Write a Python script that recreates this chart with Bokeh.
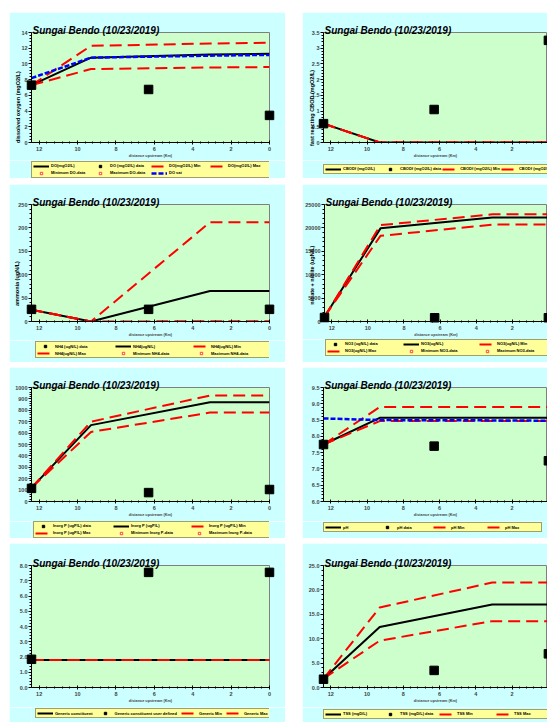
import math
from bokeh.plotting import figure
from bokeh.models import Range1d, FixedTicker, Legend, LegendItem, Spacer
from bokeh.layouts import row, column
from bokeh.core.properties import value
from bokeh.embed import file_html
from bokeh.resources import INLINE

TITLE = "Sungai Bendo (10/23/2019)"
X_LABEL = "distance upstream (Km)"
MODEL_X = [12.4, 9.3, 3.1, 0.0]
DATA_X = [12.4, 6.3, 0.0]
X_TICKS = [0, 2, 4, 6, 8, 10, 12]
X_TICK_LABELS = ["0", "2", "4", "6", "8", "10", "12"]

# Dissolved oxygen
DO_MODEL = [7.3, 10.8, 11.2, 11.3]
DO_MIN = [7.3, 9.35, 9.55, 9.6]
DO_MAX = [7.3, 12.3, 12.6, 12.7]
DO_SAT = [8.2, 10.8, 11.05, 11.15]
DO_DATA = [7.3, 6.75, 3.45]
DO_TICKS = [0, 2, 4, 6, 8, 10, 12, 14]
DO_TICK_LABELS = ["0", "2", "4", "6", "8", "10", "12", "14"]

# Fast CBOD
CBOD_MODEL = [0.6, 0.0, 0.0, 0.0]
CBOD_MIN = [0.6, 0.0, 0.0, 0.0]
CBOD_MAX = [0.6, 0.0, 0.0, 0.0]
CBOD_DATA = [0.6, 1.05, 3.25]
CBOD_TICKS = [0, 0.5, 1, 1.5, 2, 2.5, 3, 3.5]
CBOD_TICK_LABELS = ["0", "0.5", "1", "1.5", "2", "2.5", "3", "3.5"]

# Ammonia
NH4_MODEL = [25, 0, 65, 65]
NH4_MIN = [25, 0, 0.5, 0.5]
NH4_MAX = [25, 0, 212, 212]
NH4_DATA = [26, 26, 26]
NH4_TICKS = [0, 50, 100, 150, 200, 250]
NH4_TICK_LABELS = ["0", "50", "100", "150", "200", "250"]

# Nitrate
NO3_MODEL = [1000, 19900, 22200, 22200]
NO3_MIN = [1000, 18300, 20700, 20700]
NO3_MAX = [1000, 20600, 22900, 22900]
NO3_DATA = [850, 800, 800]
NO3_TICKS = [0, 5000, 10000, 15000, 20000, 25000]
NO3_TICK_LABELS = ["0", "5000", "10000", "15000", "20000", "25000"]

# Inorganic P
P_MODEL = [120, 670, 870, 870]
P_MIN = [120, 610, 780, 780]
P_MAX = [120, 700, 930, 930]
P_DATA = [115, 78, 105]
P_TICKS = [0, 100, 200, 300, 400, 500, 600, 700, 800, 900, 1000]
P_TICK_LABELS = ["0", "100", "200", "300", "400", "500", "600", "700", "800", "900", "1000"]

# pH
PH_MODEL = [7.75, 8.57, 8.57, 8.57]
PH_MIN = [7.75, 8.47, 8.47, 8.47]
PH_MAX = [7.75, 8.9, 8.9, 8.9]
PH_SAT = [8.55, 8.5, 8.49, 8.48]
PH_DATA = [7.75, 7.7, 7.25]
PH_TICKS = [6.0, 6.5, 7.0, 7.5, 8.0, 8.5, 9.0, 9.5]
PH_TICK_LABELS = ["6.0", "6.5", "7.0", "7.5", "8.0", "8.5", "9.0", "9.5"]

# Generic constituent
GEN_MODEL = [1.8, 1.8, 1.8, 1.8]
GEN_MIN = [1.8, 1.8, 1.8, 1.8]
GEN_MAX = [1.8, 1.8, 1.8, 1.8]
GEN_DATA = [1.85, 7.55, 7.55]
GEN_TICKS = [0, 1, 2, 3, 4, 5, 6, 7, 8]
GEN_TICK_LABELS = ["0.0", "1.0", "2.0", "3.0", "4.0", "5.0", "6.0", "7.0", "8.0"]

# TSS
TSS_MODEL = [1.8, 12.4, 17.0, 17.0]
TSS_MIN = [1.8, 9.6, 13.6, 13.6]
TSS_MAX = [1.8, 16.4, 21.5, 21.5]
TSS_DATA = [1.7, 3.5, 6.9]
TSS_TICKS = [0, 5, 10, 15, 20, 25]
TSS_TICK_LABELS = ["0.0", "5.0", "10.0", "15.0", "20.0", "25.0"]

CYAN = "#CCFFFF"
GREEN = "#CCFFCC"
YELLOW = "#FFFF99"
RED = "#FF0000"
BLUE = "#0000FF"
FONT = "Liberation Sans"


def minor_list(ticks, n):
    out = []
    for a, b in zip(ticks[:-1], ticks[1:]):
        for k in range(1, n):
            out.append(a + (b - a) * k / n)
    return out


def style_of(kind):
    if kind == "model":
        return dict(line_color="black", line_dash="solid", line_width=2)
    if kind == "range":
        return dict(line_color=RED, line_dash="12 6", line_width=2)
    return dict(line_color=BLUE, line_dash="5 2", line_width=2.5)


def make_panel(col, h, bt, bb, leg_h, ticks, tick_labels, series, data_label, data_y,
               empties, legend_order, ncols, label_w, lx, ly,
               ylabel=None, ylabel_y=None, ylabel_dx=0, spacing=1):
    if col == 0:
        w, bl, br, x_end = 276, 22, 16, 0.0
    else:
        w, bl, br, x_end = 245, 21, 0, 0.05
    p = figure(width=w, height=h, x_range=Range1d(12.4, x_end),
               y_range=Range1d(ticks[0], ticks[-1]),
               output_backend="svg", toolbar_location=None, tools="",
               min_border_left=bl, min_border_right=br,
               min_border_top=bt, min_border_bottom=bb,
               background_fill_color=GREEN, border_fill_color=CYAN,
               outline_line_color="#7F7F7F", outline_line_width=1)
    p.xgrid.visible = False
    p.ygrid.visible = False

    xa = p.xaxis[0]
    xa.ticker = FixedTicker(ticks=X_TICKS, minor_ticks=minor_list(X_TICKS, 5))
    xa.major_label_overrides = dict(zip(X_TICKS, X_TICK_LABELS))
    xa.axis_label = X_LABEL
    xa.axis_label_text_font = FONT
    xa.axis_label_text_font_style = "bold"
    xa.axis_label_text_font_size = "3.8px"
    xa.axis_label_standoff = 0
    xa.major_label_text_font = FONT
    xa.major_label_text_font_style = "bold"
    xa.major_label_text_font_size = "5.5px"
    xa.major_label_standoff = 2
    xa.major_tick_in = 2
    xa.major_tick_out = 2
    xa.minor_tick_in = 1
    xa.minor_tick_out = 1
    xa.axis_line_color = "black"

    ya = p.yaxis[0]
    ya.ticker = FixedTicker(ticks=ticks, minor_ticks=minor_list(ticks, 5))
    ya.major_label_overrides = dict(zip(ticks, tick_labels))
    ya.major_label_text_font = FONT
    ya.major_label_text_font_style = "bold"
    ya.major_label_text_font_size = "5.5px"
    ya.major_label_standoff = 1
    ya.major_tick_in = 0
    ya.major_tick_out = 3
    ya.minor_tick_in = 0
    ya.minor_tick_out = 2
    ya.axis_line_color = "black"

    for lab, ys, kind in series:
        p.line(MODEL_X, ys, **style_of(kind))
    p.scatter(DATA_X, data_y, marker="square", size=8.5,
              fill_color="black", line_color="black", level="overlay")

    p.text(x=[12.4], y=[ticks[-1]], text=[TITLE], x_offset=1, y_offset=-2,
           text_align="left", text_baseline="alphabetic",
           text_font=value(FONT), text_font_style="bold italic",
           text_font_size="10px", text_color="black", level="overlay")

    if ylabel:
        p.text(x=[12.4], y=[ylabel_y], text=[ylabel], x_offset=ylabel_dx,
               angle=math.pi / 2, text_align="center", text_baseline="middle",
               text_font=value(FONT), text_font_style="bold",
               text_font_size="5.5px", text_color="black", level="overlay")

    # legend strip below the chart (same panel background)
    lf = figure(width=w, height=leg_h, x_range=Range1d(0, 1), y_range=Range1d(0, 1),
                output_backend="svg", toolbar_location=None, tools="",
                x_axis_location=None, y_axis_location=None,
                min_border=0, min_border_left=bl, min_border_right=br,
                min_border_top=0, min_border_bottom=0,
                background_fill_color=CYAN, border_fill_color=CYAN,
                outline_line_color=None)
    lf.xgrid.visible = False
    lf.ygrid.visible = False
    rmap = {}
    for lab, ys, kind in series:
        if lab:
            rmap[lab] = lf.line(MODEL_X, ys, visible=False, **style_of(kind))
    rmap[data_label] = lf.scatter(DATA_X, data_y, marker="square", size=8,
                                  fill_color="black", line_color="black",
                                  visible=False)
    for lab in empties:
        rmap[lab] = lf.scatter(DATA_X, data_y, marker="square", size=4,
                               fill_color="white", line_color="#FF4040",
                               line_width=1, visible=False)
    leg = Legend(items=[LegendItem(label=l, renderers=[rmap[l]]) for l in legend_order],
                 location=(lx, ly), orientation="horizontal", ncols=ncols,
                 background_fill_color=YELLOW, background_fill_alpha=1.0,
                 border_line_color="#404040", border_line_width=1,
                 inactive_fill_alpha=0.0,
                 padding=1, spacing=spacing, margin=0,
                 glyph_width=16, glyph_height=6, label_height=6,
                 label_width=label_w, label_standoff=2,
                 label_text_font=FONT, label_text_font_size="4px",
                 label_text_font_style="bold", label_text_color="black")
    lf.add_layout(leg, "center")
    return column(p, lf)


p1 = make_panel(0, 148, 20, 17, 18, DO_TICKS, DO_TICK_LABELS,
                [("DO(mgO2/L)", DO_MODEL, "model"),
                 ("DO(mgO2/L) Min", DO_MIN, "range"),
                 ("DO(mgO2/L) Max", DO_MAX, "range"),
                 ("DO sat", DO_SAT, "sat")],
                "DO (mgO2/L) data", DO_DATA, ["Minimum DO-data", "Maximum DO-data"],
                ["DO(mgO2/L)", "DO (mgO2/L) data", "DO(mgO2/L) Min", "DO(mgO2/L) Max",
                 "Minimum DO-data", "Maximum DO-data", "DO sat"],
                4, 40, 0, 0.2, "dissolved oxygen (mgO2/L)", 4.5, -14)

p2 = make_panel(1, 148, 20, 17, 18, CBOD_TICKS, CBOD_TICK_LABELS,
                [("CBODf (mgO2/L)", CBOD_MODEL, "model"),
                 ("CBODf (mgO2/L) Min", CBOD_MIN, "range"),
                 ("CBODf (mgO2/L) Max", CBOD_MAX, "range")],
                "CBODf (mgO2/L) data", CBOD_DATA, [],
                ["CBODf (mgO2/L)", "CBODf (mgO2/L) data", "CBODf (mgO2/L) Min",
                 "CBODf (mgO2/L) Max"],
                4, 38, 0, 4.1, "fast reacting CBOD (mgO2/L)", 1.1, -12)

p3 = make_panel(0, 156, 20, 19, 22, NH4_TICKS, NH4_TICK_LABELS,
                [("NH4(ugN/L)", NH4_MODEL, "model"),
                 ("NH4(ugN/L) Min", NH4_MIN, "range"),
                 ("NH4(ugN/L) Max", NH4_MAX, "range")],
                "NH4 (ugN/L) data", NH4_DATA, ["Minimum NH4-data", "Maximum NH4-data"],
                ["NH4 (ugN/L) data", "NH4(ugN/L)", "NH4(ugN/L) Min",
                 "NH4(ugN/L) Max", "Minimum NH4-data", "Maximum NH4-data"],
                3, 59, 4, 3.8, "ammonia (ugN/L)", 81, -15)

p4 = make_panel(1, 155, 20, 18, 23, NO3_TICKS, NO3_TICK_LABELS,
                [("NO3(ugN/L)", NO3_MODEL, "model"),
                 ("NO3(ugN/L) Min", NO3_MIN, "range"),
                 ("NO3(ugN/L) Max", NO3_MAX, "range")],
                "NO3 (ugN/L) data", NO3_DATA, ["Minimum NO3-data", "Maximum NO3-data"],
                ["NO3 (ugN/L) data", "NO3(ugN/L)", "NO3(ugN/L) Min",
                 "NO3(ugN/L) Max", "Minimum NO3-data", "Maximum NO3-data"],
                3, 57, 1, 6.1, "nitrate + nitrite (ugN/L)", 9900, -13)

p5 = make_panel(0, 154, 20, 20, 17, P_TICKS, P_TICK_LABELS,
                [("Inorg P (ugP/L)", P_MODEL, "model"),
                 ("Inorg P (ugP/L) Min", P_MIN, "range"),
                 ("Inorg P (ugP/L) Max", P_MAX, "range")],
                "Inorg P (ugP/L) data", P_DATA,
                ["Minimum Inorg P-data", "Maximum Inorg P-data"],
                ["Inorg P (ugP/L) data", "Inorg P (ugP/L)", "Inorg P (ugP/L) Min",
                 "Inorg P (ugP/L) Max", "Minimum Inorg P-data", "Maximum Inorg P-data"],
                3, 59, 2, 0.5)

p6 = make_panel(1, 154, 20, 20, 17, PH_TICKS, PH_TICK_LABELS,
                [("pH", PH_MODEL, "model"),
                 ("pH Min", PH_MIN, "range"),
                 ("pH Max", PH_MAX, "range"),
                 (None, PH_SAT, "sat")],
                "pH data", PH_DATA, [],
                ["pH", "pH data", "pH Min", "pH Max"],
                4, 35, 0, 5.7)

p7 = make_panel(0, 164, 22, 20, 15, GEN_TICKS, GEN_TICK_LABELS,
                [("Generic constituent", GEN_MODEL, "model"),
                 ("Generic Min", GEN_MIN, "range"),
                 ("Generic Max", GEN_MAX, "range")],
                "Generic constituent user defined", GEN_DATA, [],
                ["Generic constituent", "Generic constituent user defined",
                 "Generic Min", "Generic Max"],
                4, 0, 4, 3.8, spacing=4)

p8 = make_panel(1, 164, 22, 20, 15, TSS_TICKS, TSS_TICK_LABELS,
                [("TSS (mgD/L)", TSS_MODEL, "model"),
                 ("TSS Min", TSS_MIN, "range"),
                 ("TSS Max", TSS_MAX, "range")],
                "TSS (mgD/L) data", TSS_DATA, [],
                ["TSS (mgD/L)", "TSS (mgD/L) data", "TSS Min", "TSS Max"],
                4, 38, 0, 3.1)

left = column(Spacer(width=276, height=12), p1, Spacer(width=276, height=6), p3,
              Spacer(width=276, height=5), p5, Spacer(width=276, height=5), p7)
right = column(Spacer(width=245, height=12), p2, Spacer(width=245, height=6), p4,
               Spacer(width=245, height=5), p6, Spacer(width=245, height=5), p8)
layout = row(Spacer(width=9, height=722), left, Spacer(width=17, height=722), right)

open("out.html", "w").write(file_html(layout, INLINE))
